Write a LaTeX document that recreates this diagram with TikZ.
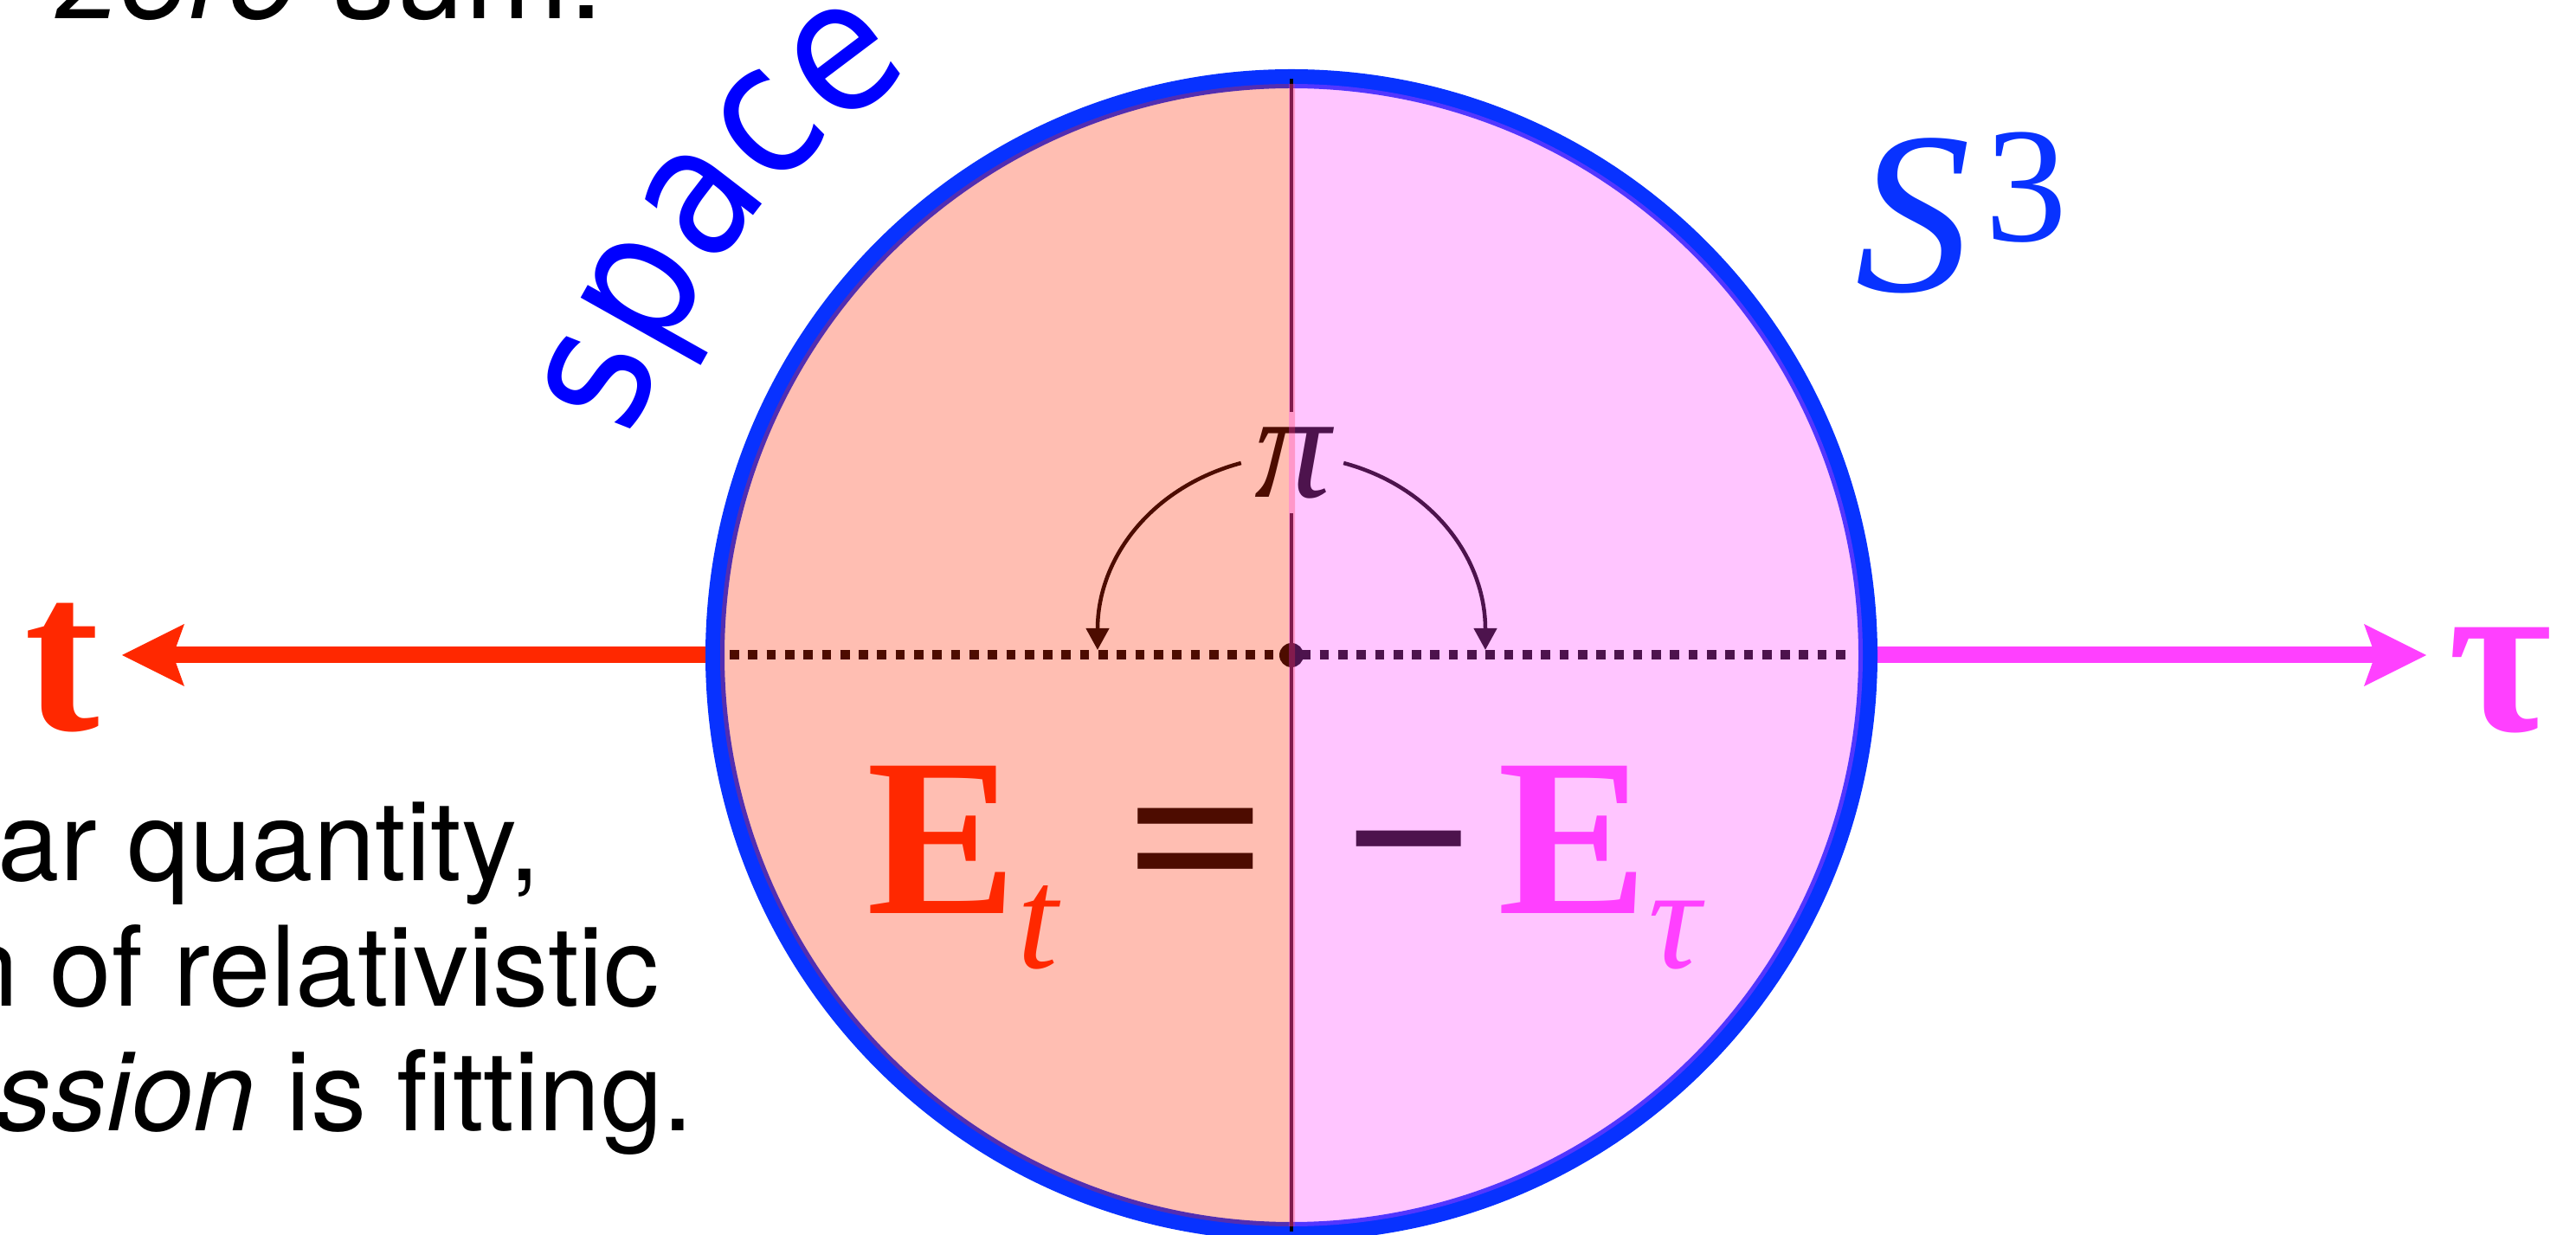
\documentclass[tikz,border=0pt]{standalone}
\usepackage{fontspec}
\setmainfont{Liberation Serif}
\newfontfamily\prosefam{TeX Gyre Heros}
\newfontfamily\roundfam[FakeStretch=0.88]{DejaVu Sans}
\usetikzlibrary{arrows.meta,decorations.text}
\definecolor{tred}{RGB}{255,40,0}
\definecolor{tpink}{RGB}{255,64,255}
\definecolor{ringblue}{RGB}{8,50,255}
\definecolor{wordblue}{RGB}{0,0,255}
\newcommand{\eqsize}{\fontsize{74}{80}\selectfont}
\newcommand{\subsize}{\fontsize{48}{52}\selectfont}
\newcommand{\wordfont}{\roundfam\fontsize{60}{66}\selectfont}

\begin{document}
\begin{tikzpicture}[
  axis/.style={line width=0.19cm, -{Stealth[length=0.72cm, width=0.72cm, inset=0.13cm, line width=0pt]}},
  dots/.style={line width=0.11cm, dash pattern=on 0.107cm off 0.106cm},
  turn/.style={line width=0.045cm, -{Triangle[length=0.25cm, width=0.26cm]}},
  big/.style={inner sep=0pt, font=\eqsize\bfseries},
  prose/.style={inner sep=0pt, anchor=base west, font=\prosefam\fontsize{36.5}{43}\selectfont}]
\useasboundingbox (0,0) rectangle (29.76,-14.27);
\coordinate (o) at (14.92,-7.57);
\coordinate (w) at (8.26,-7.57);  \coordinate (e) at (21.58,-7.57);
\coordinate (ttip) at (1.41,-7.57); \coordinate (tautip) at (28.03,-7.57);
\coordinate (dl) at (8.43,-7.57); \coordinate (dr) at (21.41,-7.57);
\coordinate (top) at (14.92,-0.91); \coordinate (bot) at (14.92,-14.23);
\coordinate (al) at (12.68,-7.51); \coordinate (ar) at (17.16,-7.51);
% the two time axes
\draw[axis, tred] (w) -- (ttip);
\draw[axis, tpink] (e) -- (tautip);
\draw[ringblue, line width=0.22cm] (o) circle (6.66);
% black marks, tinted by the halves
\draw[line width=0.04cm] (top) -- (bot);
\draw[dots] (dl) -- (dr);
\fill (o) circle (0.14);
\node[big, anchor=base] (eq) at (13.815,-10.56) {\scalebox{1.1}[1]{=}};
\node[big, anchor=base] (neg) at (16.28,-10.56) {−};
\node[fill=white, inner sep=0pt, minimum size=1.17cm, font=\fontsize{50}{54}\selectfont\itshape] (pi) at (14.93,-5.35) {π};
\draw[turn] (pi.west) to[out=195, in=90] (al);
\draw[turn] (pi.east) to[out=-15, in=90] (ar);
\foreach \c/\a/\b in {tred/0/14.96, tpink/14.89/29.76} {
  \begin{scope}
    \clip (\a,0) rectangle (\b,-14.27);
    \fill[\c, fill opacity=0.3] (o) circle (6.60);
  \end{scope}
}
% labels
\node[big, anchor=base west, tred] (Et) at (10.01,-10.56) {E\raisebox{-0.24em}{\subsize\mdseries\itshape t}};
\node[big, anchor=base west, tpink] (Etau) at (17.30,-10.56) {E\raisebox{-0.24em}{\subsize\mdseries\itshape τ}};
\node[big, anchor=base, tred] (tlab) at (0.72,-8.44) {t};
\node[big, anchor=base, tpink] (taulab) at (28.88,-8.45) {τ};
\node[inner sep=0pt, anchor=base west, ringblue, font=\fontsize{76}{80}\selectfont\itshape] (sph) at (21.43,-3.37) {S\hspace{0.06em}\raisebox{0.22em}{\fontsize{54}{58}\selectfont\upshape 3}};
\path[decorate, decoration={text along path, text={|\wordfont|space}, text color=wordblue}]
  ([shift={(161.8:8.02)}]o) arc[start angle=161.8, end angle=100, radius=8.02];
\node[prose] (l0) at (0.66,-0.22) {\fontsize{41}{48}\selectfont\textit{zero} sum.};
\node[prose] (l1) at (-0.03,-10.18) {ar quantity,};
\node[prose] (l2) at (-0.50,-11.62) {n of relativistic};
\node[prose] (l3) at (-0.05,-13.06) {\textit{ssion} is fitting.};
\end{tikzpicture}
\end{document}
